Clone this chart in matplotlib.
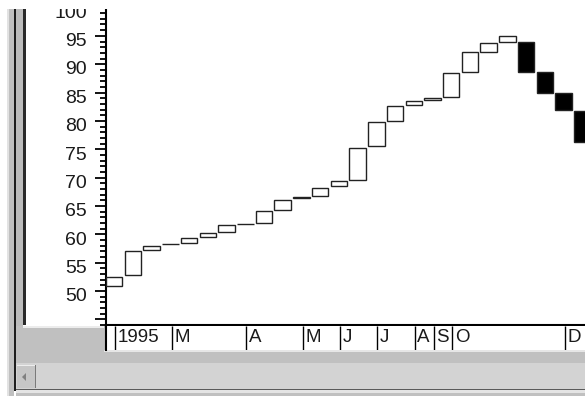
import numpy as np
import matplotlib
matplotlib.use('Agg')
import matplotlib.pyplot as plt
from matplotlib.patches import Rectangle, Polygon
from matplotlib.transforms import ScaledTranslation
from matplotlib.ticker import MultipleLocator

plt.rcParams['font.family'] = ['Liberation Sans', 'DejaVu Sans']

# weekly open / close
opens = [50.8, 52.8, 57.2, 58.2, 58.4, 59.5, 60.35, 61.8, 62.05, 64.3, 66.35, 66.8, 68.5,
         69.6, 75.6, 80.0, 82.75, 83.7, 84.15, 88.7, 92.2, 94.0, 93.85, 88.6, 84.9, 81.8]
closes = [52.5, 57.05, 57.95, 58.2, 59.3, 60.2, 61.6, 61.8, 64.1, 66.05, 66.6, 68.2, 69.4,
          75.3, 79.85, 82.6, 83.45, 83.95, 88.5, 92.15, 93.8, 94.95, 88.7, 84.9, 81.85, 76.3]

month_pos = [0.5, 3.5, 7.5, 10.5, 12.5, 14.5, 16.5, 17.5, 18.5, 24.5]
month_labels = ['1995', 'M', 'A', 'M', 'J', 'J', 'A', 'S', 'O', 'D']

ytick_vals = list(range(45, 101, 5))
ytick_labels = [''] + [str(v) for v in range(50, 101, 5)]

W, H = 585, 396
fig = plt.figure(figsize=(W / 100, H / 100), dpi=100)
fig.patch.set_facecolor('white')


def px_rect(x0, y0, x1, y1, color, z=-5):
    r = Rectangle((x0 / W, 1 - y1 / H), (x1 - x0) / W, (y1 - y0) / H,
                  transform=fig.transFigure, facecolor=color, edgecolor='none', zorder=z)
    fig.add_artist(r)


# window frame pieces (pixel coords, y down)
px_rect(7, 9, 9, 396, '#e2e2e2')
px_rect(9, 9, 14, 396, '#c0c0c0')
px_rect(14, 9, 16, 391, '#1e1e1e')
px_rect(16, 9, 23, 326, '#bcbcbc')
px_rect(23, 9, 26, 325, '#2a2a2a')
px_rect(16, 326, 585, 396, '#c0c0c0')
px_rect(23, 326, 104, 328, '#ececec')
px_rect(104, 350, 585, 352, '#e6e6e6')
px_rect(16, 363, 585, 389, '#d3d3d3')
px_rect(17, 365, 36, 388, '#c6c6c6')
px_rect(17, 365, 36, 366, '#ededed')
px_rect(35, 365, 36, 388, '#7a7a7a')
px_rect(16, 389, 585, 390, '#5a5a5a')
px_rect(16, 390, 585, 393, '#e4e4e4')
arrow = Polygon([(22 / W, 1 - 377 / H), (26 / W, 1 - 373 / H), (26 / W, 1 - 381 / H)],
                closed=True, transform=fig.transFigure, facecolor='#808080',
                edgecolor='none', zorder=-4)
fig.add_artist(arrow)

# main chart
ax = fig.add_axes([106 / W, 1 - 325 / H, (W - 106) / W, 325 / H])
ax.set_facecolor('white')
x = np.arange(len(opens))
o = np.array(opens)
c = np.array(closes)
fills = ['white' if cc >= oo else 'black' for oo, cc in zip(o, c)]
ax.bar(x, c - o, bottom=o, width=0.88, align='edge', color=fills,
       edgecolor='#222222', linewidth=1.0, zorder=3)

ax.set_xlim(0, (W - 106) / 18.72)
ax.set_ylim(44.0, 101.32)
ax.set_yticks(ytick_vals)
ax.set_yticklabels(ytick_labels)
ax.yaxis.set_minor_locator(MultipleLocator(1))
ax.set_xticks([])
for s in ['top', 'right']:
    ax.spines[s].set_visible(False)
for s in ['left', 'bottom']:
    ax.spines[s].set_linewidth(1.5)
    ax.spines[s].set_color('black')
ax.tick_params(axis='y', which='major', direction='out', length=8, width=1.3,
               pad=5.5, labelsize=14, labelcolor='#1a1a1a')
ax.tick_params(axis='y', which='minor', direction='out', length=4.3, width=1.3)
shift = ScaledTranslation(0, -0.038, fig.dpi_scale_trans)
for lab in ax.get_yticklabels():
    lab.set_transform(lab.get_transform() + shift)

# date strip under the chart
ax2 = fig.add_axes([106 / W, 1 - 350 / H, (W - 106) / W, 24 / H], sharex=ax)
ax2.set_facecolor('white')
ax2.set_ylim(0, 1)
ax2.set_yticks([])
ax2.tick_params(axis='x', which='both', bottom=False, labelbottom=False)
for s in ['top', 'right', 'bottom']:
    ax2.spines[s].set_visible(False)
ax2.spines['left'].set_linewidth(1.5)
ax2.vlines(month_pos, 0, 1, color='black', linewidth=1.0)
tshift = ScaledTranslation(0.025, 0, fig.dpi_scale_trans)
for p, lab in zip(month_pos, month_labels):
    ax2.text(p, 0.5, lab, transform=ax2.get_xaxis_transform() + tshift,
             ha='left', va='center', fontsize=13.5, color='#1a1a1a')

# top edge of the panel is clipped in the screenshot
px_rect(0, 0, W, 9, 'white', z=10)

fig.savefig('out.png', dpi=100)
